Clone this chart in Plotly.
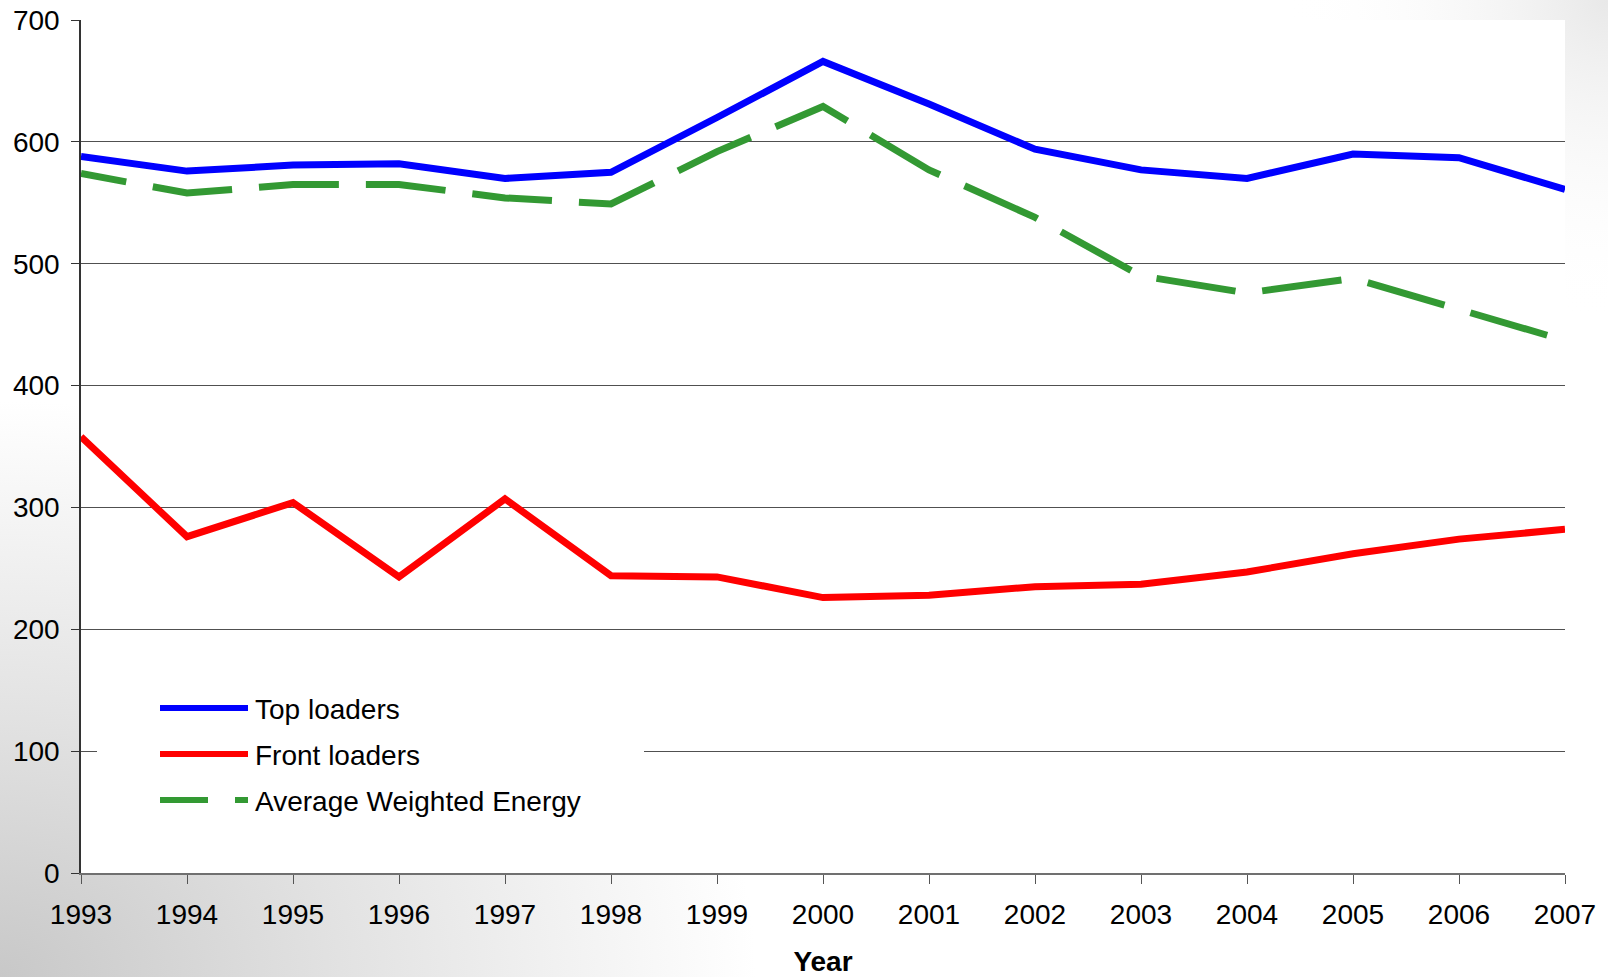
import base64
import plotly.graph_objects as go

years = list(range(1993, 2008))
top_loaders = [588, 576, 581, 582, 570, 575, 620, 666, 631, 594, 577, 570, 590, 587, 561]
front_loaders = [358, 276, 304, 243, 307, 244, 243, 226, 228, 235, 237, 247, 262, 274, 282]
avg_weighted = [574, 558, 565, 565, 554, 549, 592, 629, 577, 538, 490, 476, 488, 462, 437]
series_names = ["Top loaders", "Front loaders", "Average Weighted Energy"]
y_ticks = [0, 100, 200, 300, 400, 500, 600, 700]

W, H = 1608, 977
L, R, T, B = 81, 43, 20, 104
PW, PH = W - L - R, H - T - B
X0, X1 = years[0], years[-1]
Y0, Y1 = y_ticks[0], y_ticks[-1]

def px(x):
    return (x - L) / PW

def py(y):
    return (H - B - y) / PH

def dx(x):
    return X0 + px(x) * (X1 - X0)

def dy(y):
    return Y0 + py(y) * (Y1 - Y0)

FONT = "Liberation Sans, Arial, sans-serif"

svg = f'''<svg xmlns="http://www.w3.org/2000/svg" width="{W}" height="{H}" viewBox="0 0 {W} {H}">
<defs>
<radialGradient id="g1" gradientUnits="userSpaceOnUse" cx="0" cy="{H}" r="720" gradientTransform="translate(0 {H}) scale(1.05 0.8) translate(0 -{H})">
<stop offset="0" stop-color="#c8c8c8"/><stop offset="0.45" stop-color="#e2e2e2"/><stop offset="1" stop-color="#ffffff"/>
</radialGradient>
<radialGradient id="g2" gradientUnits="userSpaceOnUse" cx="{W}" cy="0" r="320">
<stop offset="0" stop-color="#e8e8e8"/><stop offset="1" stop-color="#ffffff" stop-opacity="0"/>
</radialGradient>
</defs>
<rect width="{W}" height="{H}" fill="url(#g1)"/>
<rect width="{W}" height="{H}" fill="url(#g2)"/>
<rect x="{L}" y="{T}" width="{PW}" height="{PH}" fill="#ffffff"/>
</svg>'''
src = "data:image/svg+xml;base64," + base64.b64encode(svg.encode()).decode()

green_dash = "46px,27px," + ",".join(["80px,27px"] * 25)

fig = go.Figure()
fig.add_trace(go.Scatter(x=years, y=top_loaders, mode="lines", name=series_names[0],
                         line=dict(color="#0000ff", width=7)))
fig.add_trace(go.Scatter(x=years, y=front_loaders, mode="lines", name=series_names[1],
                         line=dict(color="#ff0000", width=7)))
fig.add_trace(go.Scatter(x=years, y=avg_weighted, mode="lines", name=series_names[2],
                         line=dict(color="#339933", width=7, dash=green_dash)))

shapes = [
    dict(type="rect", xref="x", yref="y", x0=dx(97), x1=dx(644), y0=dy(830), y1=dy(672),
         fillcolor="white", line=dict(width=0), layer="between"),
]
legend_rows = [(708, "#0000ff", "solid"), (754, "#ff0000", "solid"), (800, "#339933", "48px,27px")]
annotations = []
for (yy, col, dash), name in zip(legend_rows, series_names):
    shapes.append(dict(type="line", xref="paper", yref="paper", x0=px(160), x1=px(248),
                       y0=py(yy), y1=py(yy), line=dict(color=col, width=6, dash=dash), layer="above"))
    annotations.append(dict(xref="paper", yref="paper", x=px(253), y=py(yy + 1), text=name,
                            showarrow=False, xanchor="left", yanchor="middle",
                            font=dict(family=FONT, size=28, color="black")))

fig.update_layout(
    width=W, height=H,
    margin=dict(l=L, r=R, t=T, b=B, autoexpand=False),
    paper_bgcolor="white", plot_bgcolor="rgba(0,0,0,0)",
    showlegend=False,
    font=dict(family=FONT, size=28, color="black"),
    images=[dict(source=src, xref="paper", yref="paper", x=px(0), y=py(0),
                 sizex=W / PW, sizey=H / PH, xanchor="left", yanchor="top",
                 sizing="stretch", layer="below")],
    shapes=shapes,
    annotations=annotations,
)
fig.update_xaxes(range=[X0, X1], tickmode="array", tickvals=years, ticktext=[str(y) for y in years],
                 showgrid=False, showline=True, linecolor="#707070", linewidth=2,
                 ticks="outside", ticklen=9, tickcolor="#555", tickwidth=1,
                 ticklabelstandoff=6,
                 tickfont=dict(family=FONT, size=28, color="black"),
                 title=dict(text="<b>Year</b>", font=dict(family=FONT, size=28, color="black"), standoff=24),
                 zeroline=False)
fig.update_yaxes(range=[Y0, Y1], tickmode="array", tickvals=y_ticks,
                 showgrid=True, gridcolor="#505050", gridwidth=1,
                 showline=True, linecolor="#333", linewidth=1.5,
                 ticks="outside", ticklen=8, tickcolor="#333", tickwidth=1,
                 ticklabelstandoff=6,
                 tickfont=dict(family=FONT, size=28, color="black"),
                 zeroline=False)

fig.write_html("out.html", config={"displayModeBar": False},
               post_script="document.body.style.margin='0';document.body.style.overflow='hidden';")
